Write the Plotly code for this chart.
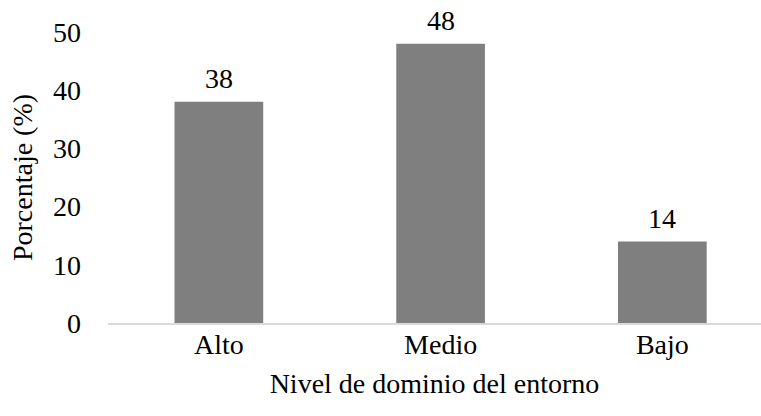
import plotly.graph_objects as go

# Porcentaje de participantes por nivel de dominio del entorno
categorias = ["Alto", "Medio", "Bajo"]
porcentajes = [38, 48, 14]
y_ticks = [0, 10, 20, 30, 40, 50]

FONT = "'Liberation Serif', 'Times New Roman', serif"
SIZE = 28
BAR_COLOR = "#7f7f7f"

fig = go.Figure()
fig.add_trace(go.Bar(
    x=categorias,
    y=porcentajes,
    marker=dict(color=BAR_COLOR, line=dict(width=0)),
    width=0.4,
    hoverinfo="skip",
))

# Etiquetas de valor sobre cada barra
for cat, val in zip(categorias, porcentajes):
    fig.add_annotation(
        x=cat, y=val, text=str(val),
        showarrow=False, yanchor="bottom", yshift=6,
        font=dict(family=FONT, size=SIZE, color="black"),
    )

fig.update_layout(
    width=761, height=416,
    margin=dict(l=108, r=0, t=32, b=93),
    paper_bgcolor="white", plot_bgcolor="white",
    font=dict(family=FONT, size=SIZE, color="black"),
    showlegend=False,
    xaxis=dict(
        range=[-0.5, 2.445],
        showgrid=False, zeroline=False,
        showline=True, linecolor="#d9d9d9", linewidth=1.5,
        ticks="", ticklabelstandoff=-4, tickfont=dict(family=FONT, size=SIZE),
        title=dict(text="Nivel de dominio del entorno", font=dict(family=FONT, size=SIZE), standoff=14),
    ),
    yaxis=dict(
        range=[0, 50], tickvals=y_ticks,
        showgrid=False, zeroline=False, showline=False,
        ticks="", ticklabelstandoff=26, tickfont=dict(family=FONT, size=SIZE),
        title=dict(text="Porcentaje (%)", font=dict(family=FONT, size=SIZE), standoff=12),
    ),
)

fig.write_html("out.html")
